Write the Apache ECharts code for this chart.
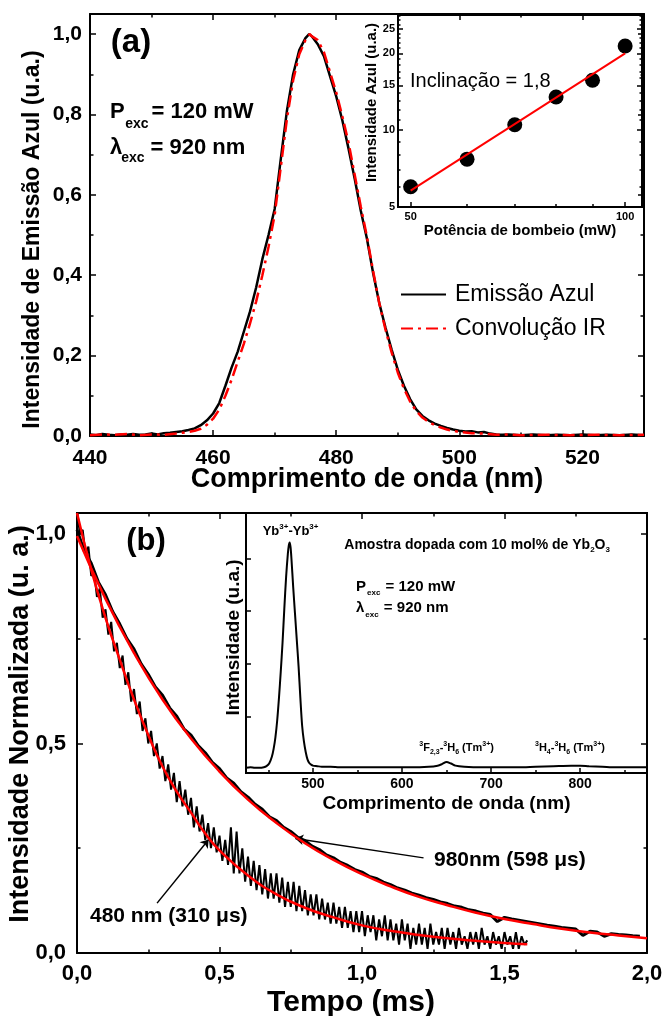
<!DOCTYPE html>
<html><head><meta charset="utf-8">
<script src="https://cdn.jsdelivr.net/npm/echarts@6.0.0/dist/echarts.min.js"></script>
<style>html,body{margin:0;padding:0;background:#fff}#c{width:665px;height:1016px}</style>
</head><body><div id="c"></div>
<script>
// ---------------- DATA ----------------
// Panel (a): blue emission spectrum and IR convolution
const emissionWavelength = [440,441,442,443,444,445,446,447,448,449,450,451,452,453,454,455,456,457,458,459,460,461,462,463,464,465,466,467,468,469,470,471,472,473,474,475,475.6,476,477,478,479,480,481,482,483,484,485,486,487,488,489,490,491,492,493,494,495,496,497,498,499,500,501,502,503,504,505,506,507,508,510,512,514,516,518,520,522,524,526,528,530];
const emissionIntensity = [0.004,0.002,0.005,0.003,0.002,0.004,0.003,0.005,0.003,0.004,
  0.006,0.004,0.007,0.008,0.010,0.012,0.015,0.019,0.027,0.039,
  0.056,0.082,0.125,0.17,0.21,0.26,0.31,0.37,0.44,0.50,
  0.565,0.69,0.81,0.90,0.96,0.99,1.0,
  0.995,0.975,0.945,0.895,0.845,0.785,0.715,0.64,0.56,0.49,
  0.405,0.33,0.27,0.215,0.165,0.125,0.092,0.066,0.05,0.039,
  0.031,0.025,0.02,0.016,0.013,0.011,0.012,0.009,0.010,0.006,
  0.004,0.003,0.004,
  0.002,0.004,0.002,0.003,0.002,0.004,0.002,0.003,0.002,0.004,0.002];
const convolutionWavelength = [440,442,444,446,448,450,452,454,455,456,457,458,459,460,461,462,463,464,465,466,467,468,469,470,471,472,473,474,475,475.7,476,477,478,479,480,481,482,483,484,485,486,487,488,489,490,491,492,493,494,495,496,497,498,499,500,502,504,506,508,510,514,518,522,526,530];
const convolutionIntensity = [0.002,0.004,0.003,0.005,0.002,0.004,0.003,0.006,
  0.008,0.010,0.013,0.018,0.028,0.043,0.066,0.10,0.14,0.185,
  0.23,0.28,0.335,0.40,0.47,0.55,0.67,0.79,0.885,0.95,0.985,
  1.0,
  0.995,0.985,0.955,0.905,0.855,0.795,0.73,0.65,0.57,0.495,
  0.41,0.33,0.265,0.208,0.158,0.118,0.086,0.062,0.046,0.035,
  0.027,0.021,0.016,0.013,0.010,
  0.007,0.006,0.003,0.004,0.002,
  0.003,0.002,0.003,0.002,0.003];

// Inset (a): blue intensity vs pump power (log-log)
const pumpPower = [50, 60, 70, 80, 90, 100];
const blueIntensity = [6.0, 7.7, 10.5, 13.5, 15.7, 21.4];
const fitPower = [50, 100];
const fitIntensity = [5.8, 20.0];
const insetAXLabels = [50, 100];
const insetAXMinor = [60, 70, 80, 90];
const insetAYLabels = [5, 10, 15, 20, 25];
const insetAYMinor = [6,7,8,9,11,12,13,14,16,17,18,19,21,22,23,24,26,27,28];

// Panel (b): decays (sampled every decay480Step / decay980Step ms)
const decay480Step = 0.01;
const decay480 = [1.06,1.00,1.01,0.95,0.97,0.90,0.91,0.85,0.87,0.80,
  0.82,0.76,0.79,0.72,0.74,0.68,0.71,0.64,0.67,0.60,
  0.63,0.57,0.60,0.53,0.56,0.50,0.53,0.47,0.50,0.44,
  0.47,0.41,0.45,0.39,0.43,0.36,0.41,0.35,0.39,0.33,
  0.37,0.30,0.35,0.29,0.33,0.27,0.31,0.25,0.30,0.24,
  0.28,0.22,0.27,0.21,0.30,0.19,0.29,0.19,0.25,0.17,
  0.23,0.16,0.22,0.15,0.21,0.14,0.20,0.13,0.19,0.13,
  0.19,0.12,0.18,0.11,0.17,0.11,0.17,0.10,0.16,0.10,
  0.15,0.09,0.14,0.09,0.14,0.08,0.13,0.08,0.12,0.07,
  0.12,0.07,0.11,0.06,0.11,0.06,0.10,0.05,0.10,0.05,
  0.10,0.04,0.09,0.05,0.09,0.03,0.08,0.04,0.09,0.03,
  0.08,0.03,0.07,0.02,0.08,0.03,0.07,0.01,0.06,0.02,
  0.07,0.02,0.06,0.01,0.07,0.02,0.05,0.02,0.06,0.01,
  0.06,0.02,0.05,0.01,0.06,0.02,0.04,0.01,0.05,0.02,
  0.05,0.01,0.06,0.02,0.04,0.01,0.05,0.02,0.04,0.01,
  0.05,0.02,0.04,0.01,0.05,0.01,0.04,0.02,0.03];
const fit480Time = [0,0.05,0.1,0.15,0.2,0.25,0.3,0.35,0.4,0.45,0.5,0.6,0.7,0.8,0.9,1.0,1.1,1.2,1.3,1.4,1.5,1.58];
const fit480 = [1.05,0.915,0.80,0.70,0.605,0.52,0.445,0.385,0.335,0.285,0.245,0.185,0.14,0.108,0.085,0.066,0.053,0.043,0.035,0.029,0.024,0.021];
const decay980Step = 0.025;
const decay980 = [1.01,0.96,0.93,0.885,0.855,0.815,0.785,0.75,0.725,0.69,
  0.665,0.635,0.615,0.585,0.565,0.535,0.52,0.495,0.478,0.455,
  0.44,0.418,0.405,0.385,0.372,0.355,0.343,0.325,0.316,0.30,
  0.29,0.276,0.268,0.255,0.247,0.234,0.227,0.216,0.209,0.199,
  0.193,0.183,0.178,0.169,0.163,0.155,0.15,0.143,0.138,0.132,
  0.128,0.122,0.118,0.112,0.109,0.103,0.10,0.095,0.092,0.075,
  0.085,0.081,0.078,0.075,0.072,0.069,0.066,0.064,0.061,0.059,
  0.057,0.042,0.052,0.05,0.04,0.046,0.044,0.043,0.041,0.04];
const fit980Time = [0,0.1,0.2,0.3,0.4,0.5,0.6,0.7,0.8,0.9,1.0,1.1,1.2,1.3,1.4,1.5,1.6,1.7,1.8,1.9,2.0];
const fit980 = [0.995,0.845,0.716,0.605,0.512,0.433,0.366,0.31,0.262,0.222,0.188,0.159,0.134,0.114,0.096,0.081,0.069,0.058,0.049,0.042,0.035];
const arrow980 = [[1.216, 0.227], [0.766, 0.273]];
const arrow480 = [[0.281, 0.119], [0.462, 0.271]];

// Inset (b): full upconversion spectrum
const spectrumWavelength = [425,430,435,440,445,448,451,454,456,458,460,462,464,466,468,470,472,473,474,475,476,478,480,482,484,486,488,490,492,494,496,498,500,505,510,520,530,550,570,590,610,630,640,645,650,655,660,670,690,710,730,750,770,790,800,810,825,840,860,875];
const spectrumIntensity = [0.02,0.03,0.02,0.02,0.03,0.05,0.10,0.23,0.38,0.60,0.92,1.35,1.85,2.40,3.05,3.65,4.10,4.25,4.31,4.22,4.00,3.45,2.95,2.45,1.95,1.35,0.82,0.52,0.32,0.18,0.11,0.08,0.06,0.05,0.04,0.04,0.03,0.03,0.03,0.03,0.03,0.04,0.06,0.09,0.13,0.10,0.06,0.04,0.03,0.03,0.03,0.04,0.05,0.06,0.06,0.05,0.04,0.03,0.03,0.03];
const insetBXLabels = [500, 600, 700, 800];
const insetBXMinor = [450, 550, 650, 750, 850];
const insetBYTicks = [1, 2, 3, 4];

// ---------------- HELPERS ----------------
const FONT = "'Liberation Sans', Arial, Helvetica, sans-serif";
const BLACK = '#000';
const RED = '#ff0000';
const zip = (xs, ys) => xs.map((x, i) => [x, ys[i]]);
const sampled = (step, ys) => ys.map((y, i) => [+(i * step).toFixed(4), y]);
const comma = d => v => Number(v).toFixed(d).replace('.', ',');
const lbl = (size, weight) => ({color: BLACK, fontFamily: FONT, fontWeight: weight || 'bold', fontSize: size});

const mctx = document.createElement('canvas').getContext('2d');
function tw(text, size, weight) { mctx.font = weight + ' ' + size + 'px ' + FONT; return mctx.measureText(text).width; }
function txt(x, y, text, size, o) {
  o = o || {};
  return {type: 'text', x: x, y: y, z: 100, rotation: o.rot || 0,
    style: {text: text, font: (o.w || 'bold') + ' ' + size + 'px ' + FONT, fill: BLACK,
      textAlign: o.align || 'left', textVerticalAlign: 'middle', align: o.align || 'left', verticalAlign: 'middle'}};
}
function runText(x, y, parts) {
  const els = []; let cx = x;
  parts.forEach(p => {
    const w = p.w || 'bold';
    els.push(txt(cx, y + (p.dy || 0), p.t, p.s, {w: w}));
    cx += tw(p.t, p.s, w) + (p.gap || 0);
  });
  return els;
}

function axis(o) {
  const tick = Object.assign({show: true, inside: true, length: 6, lineStyle: {color: BLACK, width: 1.5}}, o.tick || {});
  const minor = o.minor ? {show: true, splitNumber: o.minor, length: 3.5, lineStyle: {color: BLACK, width: 1.5}} : {show: false};
  const res = {
    type: o.type || 'value', gridIndex: o.grid, position: o.position,
    min: o.min, max: o.max,
    axisLine: {show: true, onZero: false, lineStyle: {color: BLACK, width: 2}},
    axisTick: tick, minorTick: minor,
    splitLine: {show: false}, minorSplitLine: {show: false},
    axisLabel: o.label ? Object.assign({show: true}, o.label) : {show: false},
    nameMoveOverlap: false
  };
  if (o.interval !== undefined) res.interval = o.interval;
  if (o.logBase) res.logBase = o.logBase;
  if (o.name) {
    res.name = o.name; res.nameLocation = 'middle'; res.nameGap = o.nameGap;
    res.nameTextStyle = Object.assign(lbl(o.nameSize), o.namePadding ? {padding: o.namePadding} : {});
  }
  return res;
}

// ---------------- OPTION ----------------
const xAxis = [
  // 0 panel a bottom
  axis({grid: 0, position: 'bottom', min: 440, max: 530, interval: 20, minor: 2,
    label: Object.assign(lbl(21), {margin: 12, showMaxLabel: false, formatter: v => String(v)}),
    name: 'Comprimento de onda (nm)', nameGap: 30, nameSize: 27}),
  // 1 panel a top mirror
  axis({grid: 0, position: 'top', min: 440, max: 530, interval: 20, minor: 2}),
  // 2 inset a bottom (log)
  axis({grid: 1, type: 'log', logBase: 10, position: 'bottom', min: 48, max: 105.6,
    tick: {customValues: insetAXLabels, length: 5},
    label: Object.assign(lbl(11), {margin: 4, customValues: insetAXLabels, formatter: v => String(Math.round(v))}),
    name: 'Potência de bombeio (mW)', nameGap: 16, nameSize: 15}),
  // 3 inset a bottom minor
  axis({grid: 1, type: 'log', logBase: 10, position: 'bottom', min: 48, max: 105.6,
    tick: {customValues: insetAXMinor, length: 3}}),
  // 4 panel b bottom
  axis({grid: 2, position: 'bottom', min: 0, max: 2, interval: 0.5, minor: 2,
    label: Object.assign(lbl(22), {margin: 10, formatter: comma(1)}),
    name: 'Tempo (ms)', nameGap: 35, nameSize: 30, namePadding: [0, 22, 0, 0]}),
  // 5 panel b top mirror
  axis({grid: 2, position: 'top', min: 0, max: 2, interval: 0.5, minor: 2}),
  // 6 inset b bottom
  axis({grid: 3, position: 'bottom', min: 425, max: 875,
    tick: {customValues: insetBXLabels, length: 5},
    label: Object.assign(lbl(14), {margin: 4, customValues: insetBXLabels, formatter: v => String(v)}),
    name: 'Comprimento de onda (nm)', nameGap: 21, nameSize: 19}),
  // 7 inset b bottom minor
  axis({grid: 3, position: 'bottom', min: 425, max: 875, tick: {customValues: insetBXMinor, length: 3}})
];

const yAxis = [
  // 0 panel a left (title drawn as rotated text below)
  axis({grid: 0, position: 'left', min: 0, max: 1.05, interval: 0.2, minor: 2,
    label: Object.assign(lbl(21), {margin: 8, showMaxLabel: false, formatter: comma(1)})}),
  // 1 panel a right mirror
  axis({grid: 0, position: 'right', min: 0, max: 1.05, interval: 0.2, minor: 2}),
  // 2 inset a left (log)
  axis({grid: 1, type: 'log', logBase: 10, position: 'left', min: 5, max: 28.3,
    tick: {customValues: insetAYLabels, length: 5},
    label: Object.assign(lbl(11), {margin: 3, customValues: insetAYLabels, formatter: v => String(Math.round(v))}),
    name: 'Intensidade Azul (u.a.)', nameGap: 19, nameSize: 15, namePadding: [0, 0, 0, 17]}),
  // 3 inset a left minor
  axis({grid: 1, type: 'log', logBase: 10, position: 'left', min: 5, max: 28.3, tick: {customValues: insetAYMinor, length: 2.5}}),
  // 4 inset a right
  axis({grid: 1, type: 'log', logBase: 10, position: 'right', min: 5, max: 28.3, tick: {customValues: insetAYLabels, length: 5}}),
  // 5 inset a right minor
  axis({grid: 1, type: 'log', logBase: 10, position: 'right', min: 5, max: 28.3, tick: {customValues: insetAYMinor, length: 2.5}}),
  // 6 panel b left (title drawn as rotated text below)
  axis({grid: 2, position: 'left', min: 0, max: 1.05, interval: 0.5, minor: 2,
    label: Object.assign(lbl(22), {margin: 11, showMaxLabel: false, formatter: comma(1)})}),
  // 7 panel b right mirror
  axis({grid: 2, position: 'right', min: 0, max: 1.05, interval: 0.5, minor: 2}),
  // 8 inset b left
  axis({grid: 3, position: 'left', min: -0.08, max: 4.87, tick: {customValues: insetBYTicks, length: 5},
    name: 'Intensidade (u.a.)', nameGap: 3, nameSize: 19, namePadding: [0, 0, 0, 11]})
];

const graphic = [].concat(
  [txt(32.5, 239.5, 'Intensidade de Emissão Azul (u.a.)', 23, {align: 'center', rot: Math.PI / 2})],
  [txt(21, 724, 'Intensidade Normalizada (u. a.)', 27, {align: 'center', rot: Math.PI / 2})],
  [txt(131, 43, '(a)', 33, {align: 'center'})],
  runText(110, 112, [{t: 'P', s: 22, gap: 0.5}, {t: 'exc', s: 14, dy: 12, gap: 3}, {t: '= 120 mW', s: 22}]),
  runText(110, 148.3, [{t: 'λ', s: 22, gap: -1}, {t: 'exc', s: 14, dy: 9.5, gap: 6}, {t: '= 920 nm', s: 22}]),
  runText(410, 81.7, [{t: 'Inclinação = 1,8', s: 20, w: 'normal'}]),
  [txt(146, 541.7, '(b)', 31, {align: 'center'})],
  runText(434, 860, [{t: '980nm (598 μs)', s: 21}]),
  runText(90, 916.7, [{t: '480 nm (310 μs)', s: 21}]),
  runText(262.7, 531.7, [{t: 'Yb', s: 13}, {t: '3+', s: 8, dy: -5}, {t: '-Yb', s: 13}, {t: '3+', s: 8, dy: -5}]),
  runText(344.3, 545, [{t: 'Amostra dopada com 10 mol% de Yb', s: 14}, {t: '2', s: 8, dy: 5}, {t: 'O', s: 14}, {t: '3', s: 8, dy: 5}]),
  runText(356, 586.7, [{t: 'P', s: 15, gap: 1}, {t: 'exc', s: 8, dy: 6, gap: 1}, {t: ' = 120 mW', s: 15}]),
  runText(356, 608.3, [{t: 'λ', s: 15, gap: 1}, {t: 'exc', s: 8, dy: 6, gap: 1}, {t: ' = 920 nm', s: 15}]),
  runText(419.3, 748.3, [{t: '3', s: 7, dy: -4}, {t: 'F', s: 11}, {t: '2,3', s: 7, dy: 4}, {t: '-', s: 11}, {t: '3', s: 7, dy: -4}, {t: 'H', s: 11}, {t: '6', s: 7, dy: 4}, {t: ' (Tm', s: 11}, {t: '3+', s: 7, dy: -4}, {t: ')', s: 11}]),
  runText(535, 748.3, [{t: '3', s: 7, dy: -4}, {t: 'H', s: 11}, {t: '4', s: 7, dy: 4}, {t: '-', s: 11}, {t: '3', s: 7, dy: -4}, {t: 'H', s: 11}, {t: '6', s: 7, dy: 4}, {t: ' (Tm', s: 11}, {t: '3+', s: 7, dy: -4}, {t: ')', s: 11}])
);

const arrowMark = pts => ({
  silent: true, symbol: ['none', 'arrow'], symbolSize: 8, animation: false,
  label: {show: false}, emphasis: {disabled: true},
  lineStyle: {color: BLACK, width: 1.5, type: 'solid'},
  data: [[{coord: pts[0]}, {coord: pts[1]}]]
});

const option = {
  animation: false,
  backgroundColor: '#fff',
  textStyle: {fontFamily: FONT},
  grid: [
    {left: 90, top: 14, width: 554, height: 422, outerBoundsMode: 'none', containLabel: false},
    {left: 398, top: 15, width: 244, height: 192, show: true, backgroundColor: '#fff', borderColor: BLACK, borderWidth: 2, outerBoundsMode: 'none', containLabel: false},
    {left: 77, top: 513, width: 570, height: 440, outerBoundsMode: 'none', containLabel: false},
    {left: 246, top: 513, width: 401, height: 260, show: true, backgroundColor: '#fff', borderColor: BLACK, borderWidth: 2, outerBoundsMode: 'none', containLabel: false}
  ],
  xAxis, yAxis, graphic,
  legend: {
    orient: 'vertical', left: 400, top: 283, padding: 0, itemWidth: 45, itemHeight: 14, itemGap: 11,
    selectedMode: false, data: ['Emissão Azul', 'Convolução IR'],
    itemStyle: {opacity: 0},
    textStyle: {fontFamily: FONT, fontSize: 23, color: BLACK, padding: [0, 0, 0, 4]}
  },
  series: [
    {name: 'Emissão Azul', type: 'line', xAxisIndex: 0, yAxisIndex: 0, symbol: 'none', z: 3,
      data: zip(emissionWavelength, emissionIntensity), lineStyle: {color: BLACK, width: 2.5}, itemStyle: {color: BLACK}},
    {name: 'Convolução IR', type: 'line', xAxisIndex: 0, yAxisIndex: 0, symbol: 'none', z: 4,
      data: zip(convolutionWavelength, convolutionIntensity), lineStyle: {color: RED, width: 2.5, type: [12, 5, 3, 5]}, itemStyle: {color: RED}},
    {name: 'pontos', type: 'scatter', xAxisIndex: 2, yAxisIndex: 2, symbol: 'circle', symbolSize: 15, z: 5,
      data: zip(pumpPower, blueIntensity), itemStyle: {color: BLACK, opacity: 1}},
    {name: 'ajuste', type: 'line', xAxisIndex: 2, yAxisIndex: 2, symbol: 'none', z: 6,
      data: zip(fitPower, fitIntensity), lineStyle: {color: RED, width: 2}},
    {name: 'd980', type: 'line', xAxisIndex: 4, yAxisIndex: 6, symbol: 'none', z: 3,
      data: sampled(decay980Step, decay980), lineStyle: {color: BLACK, width: 3}},
    {name: 'd480', type: 'line', xAxisIndex: 4, yAxisIndex: 6, symbol: 'none', z: 3,
      data: sampled(decay480Step, decay480), lineStyle: {color: BLACK, width: 2}},
    {name: 'f980', type: 'line', xAxisIndex: 4, yAxisIndex: 6, symbol: 'none', smooth: true, z: 5,
      data: zip(fit980Time, fit980), lineStyle: {color: RED, width: 2.5}, markLine: arrowMark(arrow980)},
    {name: 'f480', type: 'line', xAxisIndex: 4, yAxisIndex: 6, symbol: 'none', smooth: true, z: 5,
      data: zip(fit480Time, fit480), lineStyle: {color: RED, width: 2.5}, markLine: arrowMark(arrow480)},
    {name: 'espectro', type: 'line', xAxisIndex: 6, yAxisIndex: 8, symbol: 'none', smooth: 0.3, z: 3,
      data: zip(spectrumWavelength, spectrumIntensity), lineStyle: {color: BLACK, width: 2}}
  ]
};

const chart = echarts.init(document.getElementById('c'), null, {renderer: 'canvas'});
chart.setOption(option);
</script></body></html>
